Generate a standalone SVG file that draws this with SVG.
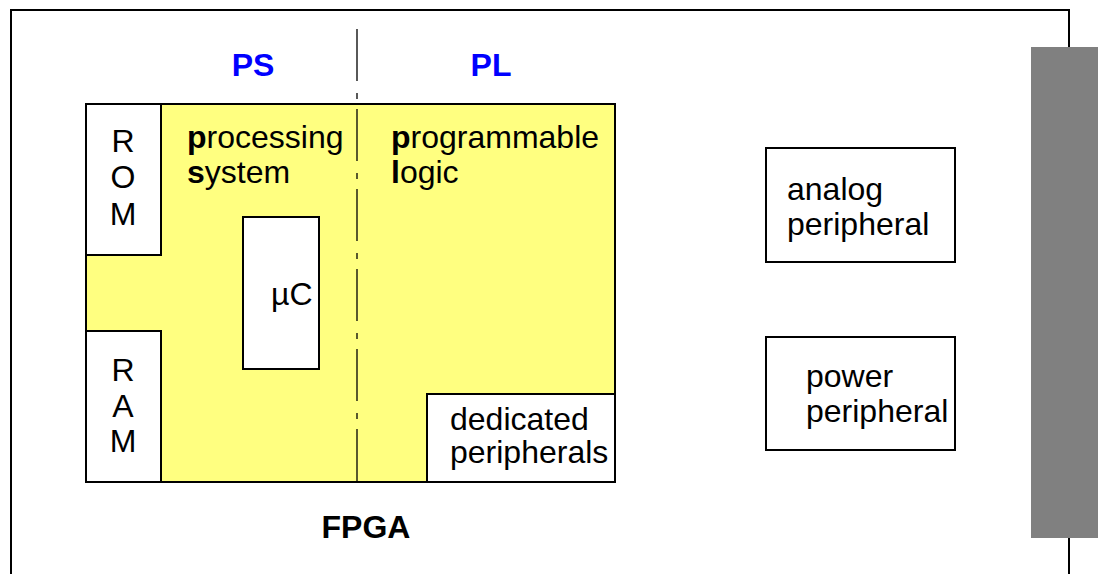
<svg xmlns="http://www.w3.org/2000/svg" width="1098" height="574" viewBox="0 0 1098 574">
<style>
text{font-family:"Liberation Sans",Arial,Helvetica,sans-serif;font-size:32px;fill:#000}
.b{font-weight:bold}
.blue{fill:#0000ff;font-weight:bold}
.box{fill:#fff;stroke:#000;stroke-width:2}
.mid{text-anchor:middle}
</style>
<rect width="1098" height="574" fill="#fff"/>
<g id="fpga-frame">
<path d="M11,580 V10 H1069 V580" fill="none" stroke="#000" stroke-width="2"/>
</g>
<g id="connector-bar">
<rect x="1031" y="47" width="67" height="491" fill="#808080"/>
</g>
<g id="soc">
<rect x="86" y="104" width="529" height="378" fill="#ffff80" stroke="#000" stroke-width="2"/>
<text x="187" y="148"><tspan class="b">p</tspan>rocessing</text>
<text x="187" y="183"><tspan class="b">s</tspan>ystem</text>
<text x="391" y="148"><tspan class="b">p</tspan>rogrammable</text>
<text x="391" y="183"><tspan class="b">l</tspan>ogic</text>
</g>
<g id="rom">
<rect class="box" x="86" y="104" width="75" height="151"/>
<text class="mid" x="123" y="152">R</text>
<text class="mid" x="123" y="188">O</text>
<text class="mid" x="123" y="225">M</text>
</g>
<g id="ram">
<rect class="box" x="86" y="331" width="75" height="151"/>
<text class="mid" x="123" y="381">R</text>
<text class="mid" x="123" y="417">A</text>
<text class="mid" x="123" y="452">M</text>
</g>
<g id="uc">
<rect class="box" x="243" y="217" width="76" height="152"/>
<text x="271" y="305">µC</text>
</g>
<g id="dedicated">
<rect class="box" x="427" y="394" width="188" height="88"/>
<text x="450" y="430">dedicated</text>
<text x="450" y="463">peripherals</text>
</g>
<g id="analog">
<rect class="box" x="766" y="148" width="189" height="114"/>
<text x="787" y="200">analog</text>
<text x="787" y="235">peripheral</text>
</g>
<g id="power">
<rect class="box" x="766" y="337" width="189" height="113"/>
<text x="806" y="387">power</text>
<text x="806" y="422">peripheral</text>
</g>
<g id="labels">
<text class="blue mid" x="253" y="76">PS</text>
<text class="blue mid" x="491" y="76">PL</text>
<text class="b mid" x="366" y="538">FPGA</text>
</g>
<g id="connectors">
<line x1="357" y1="29" x2="357" y2="482" stroke="#000" stroke-width="1.3" stroke-dasharray="52 12 6 10"/>
</g>
</svg>
